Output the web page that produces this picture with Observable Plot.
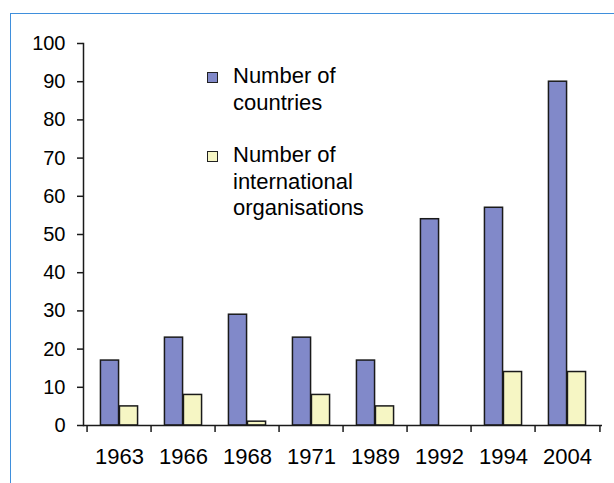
<!DOCTYPE html>
<html>
<head>
<meta charset="utf-8">
<script src="https://cdn.jsdelivr.net/npm/d3@7"></script>
<script src="https://cdn.jsdelivr.net/npm/@observablehq/plot@0.6"></script>
<style>
  html, body { margin: 0; padding: 0; background: #fff; overflow: hidden; }
  #wrap { position: relative; width: 614px; height: 483px; overflow: hidden; font-family: "Liberation Sans", Arial, sans-serif; }
  #border { position: absolute; left: 10px; top: 13px; width: 700px; height: 600px; border: 1.5px solid #3f8fdc; box-sizing: border-box; }
  #chart { position: absolute; left: 0; top: 0; }
  .leg { position: absolute; left: 233px; font-size: 22px; line-height: 26.5px; color: #000; }
  .sw { position: absolute; left: 207px; width: 11px; height: 11px; border: 1.5px solid #222; box-sizing: border-box; }
</style>
</head>
<body>
<div id="wrap">
  <div id="border"></div>
  <div id="chart"></div>
</div>
<script>
const years = ["1963", "1966", "1968", "1971", "1989", "1992", "1994", "2004"];
const countries = [17, 23, 29, 23, 17, 54, 57, 90];
const organisations = [5, 8, 1, 8, 5, 0, 14, 14];
const seriesNames = ["Number of countries", "Number of international organisations"];
const yTicks = [0, 10, 20, 30, 40, 50, 60, 70, 80, 90, 100];

const colCountries = "#8189c9";
const colOrgs = "#f6f6c4";

const data = years.map((y, i) => ({year: y, countries: countries[i], organisations: organisations[i]}));

const W = 614, H = 483, mL = 83, mR = 12, mT = 43, mB = 58;
const bw = (W - mL - mR) / years.length;
const barW = 19;
const half = bw / 2;

const plot = Plot.plot({
  width: W,
  height: H,
  marginLeft: mL,
  marginRight: mR,
  marginTop: mT,
  marginBottom: mB,
  style: {fontFamily: "Liberation Sans, Arial, sans-serif", background: "transparent", color: "#000"},
  x: {type: "band", domain: years, paddingInner: 0, paddingOuter: 0, label: null},
  y: {domain: [0, 100], label: null},
  marks: [
    Plot.barY(data, {x: "year", y: "countries", fill: colCountries, stroke: "#1a1a1a", strokeWidth: 1.5,
      insetLeft: half - barW, insetRight: half}),
    Plot.barY(data, {x: "year", y: "organisations", fill: colOrgs, stroke: "#1a1a1a", strokeWidth: 1.5,
      insetLeft: half, insetRight: half - barW, filter: d => d.organisations > 0}),
    Plot.frame({anchor: "left", stroke: "#1a1a1a", strokeWidth: 1.5}),
    Plot.ruleY([0], {stroke: "#1a1a1a", strokeWidth: 1.5}),
    Plot.axisY({ticks: yTicks, tickSize: 6, tickPadding: 12, fontSize: 20, stroke: "#1a1a1a", strokeWidth: 1.5, label: null}),
    Plot.axisX({ticks: years, tickSize: 7, tickFormat: () => "", dx: -half, stroke: "#1a1a1a", strokeWidth: 1.5, label: null}),
    Plot.axisX({ticks: years.slice(-1), tickSize: 7, tickFormat: () => "", dx: half, stroke: "#1a1a1a", strokeWidth: 1.5, label: null}),
    Plot.axisX({ticks: years, tickSize: 0, tickPadding: 23, fontSize: 22, label: null})
  ]
});
document.getElementById("chart").appendChild(plot);

// Legend (HTML overlay)
const wrap = document.getElementById("wrap");
const legendItems = [
  {color: colCountries, lines: ["Number of", "countries"], top: 63, swTop: 72},
  {color: colOrgs, lines: ["Number of", "international", "organisations"], top: 142, swTop: 151}
];
legendItems.forEach(it => {
  const sw = document.createElement("div");
  sw.className = "sw";
  sw.style.top = it.swTop + "px";
  sw.style.background = it.color;
  wrap.appendChild(sw);
  const t = document.createElement("div");
  t.className = "leg";
  t.style.top = it.top + "px";
  t.innerHTML = it.lines.join("<br>");
  wrap.appendChild(t);
});
</script>
</body>
</html>
